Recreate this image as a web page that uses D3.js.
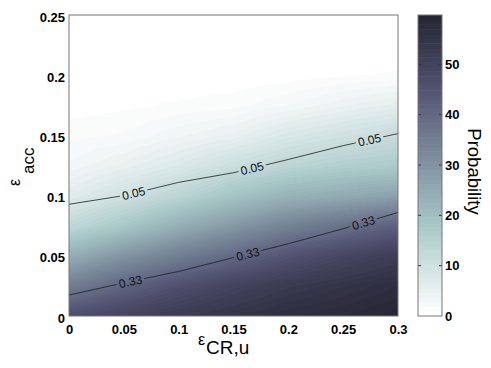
<!DOCTYPE html>
<html>
<head>
<meta charset="utf-8">
<script src="https://cdn.jsdelivr.net/npm/d3@7"></script>
<style>
  body { margin: 0; background: #fff; }
  text { font-family: Arial, "Liberation Sans", sans-serif; }
</style>
</head>
<body>
<svg id="chart" width="491" height="368"></svg>
<script>
// grid of the surface (x = eps_CR,u, y = eps_acc)
const xValues = [0, 0.05, 0.1, 0.15, 0.2, 0.25, 0.3];
const yValues = [0, 0.025, 0.05, 0.075, 0.1, 0.125, 0.15, 0.175, 0.2, 0.225, 0.25];
const probability = [
  [47, 50, 53, 55, 57, 58, 59.5],
  [35, 41, 46, 50, 53, 55, 57],
  [24, 30, 35, 40, 45, 49, 52],
  [13, 18, 24, 29, 34, 38, 42],
  [6.5, 10, 14, 19, 23, 25, 27],
  [3, 5, 7.5, 11, 14, 16, 17],
  [1.5, 2, 3.5, 5, 8, 10, 12],
  [0.4, 0.7, 1.1, 1.5, 2.8, 4.5, 6],
  [0, 0.1, 0.1, 0.1, 0.4, 0.8, 1.1],
  [0, 0, 0, 0, 0, 0.05, 0.1],
  [0, 0, 0, 0, 0, 0, 0]
];

// contour lines and where their labels sit
const contour05 = [[0, 0.0928], [0.05, 0.1000], [0.1, 0.1110], [0.15, 0.1190], [0.2, 0.1300], [0.25, 0.1415], [0.3, 0.1515]];
const contour33 = [[0, 0.0174], [0.05, 0.0275], [0.1, 0.0370], [0.15, 0.0485], [0.2, 0.0600], [0.25, 0.0725], [0.3, 0.0860]];
const labels05 = [0.059, 0.167, 0.274];
const labels33 = [0.056, 0.163, 0.2685];

const xTicks = [0, 0.05, 0.1, 0.15, 0.2, 0.25, 0.3];
const yTicks = [0, 0.05, 0.1, 0.15, 0.2, 0.25];
const colorTicks = [0, 10, 20, 30, 40, 50];
const colorMax = 59.8;

const margin = {left: 69, top: 15};
const width = 329, height = 301;
const cbar = {x: 418, w: 24};
const nLevels = 64, tMin = 0.17;

const svg = d3.select("#chart");
svg.append("rect").attr("width", 491).attr("height", 368).attr("fill", "#fff");

const xScale = d3.scaleLinear().domain([0, 0.3]).range([0, width]);
const yScale = d3.scaleLinear().domain([0, 0.25]).range([height, 0]);
const cScale = d3.scaleLinear().domain([0, colorMax]).range([height, 0]);

// matlab bone colormap, flipped
function bone(t) {
  let r, g, b;
  const h = 0.375;
  if (t < h) { r = 7 * t / 8; g = 7 * t / 8; b = (7 * t + t / h) / 8; }
  else if (t < 0.75) { r = 7 * t / 8; g = (7 * t + (t - h) / h) / 8; b = (7 * t + 1) / 8; }
  else { r = (7 * t + (t - 0.75) * 4) / 8; g = (7 * t + 1) / 8; b = (7 * t + 1) / 8; }
  return [r * 255, g * 255, b * 255];
}
function levelOf(v) {
  return Math.max(0, Math.min(nLevels - 1, Math.floor(v / colorMax * nLevels)));
}
function levelColor(k) {
  return bone(1 - k / (nLevels - 1) * (1 - tMin));
}

// surface value with interp shading between grid nodes
function valueAt(x, y) {
  const fx = Math.max(0, Math.min(xValues.length - 1.000001, x / (xValues[1] - xValues[0])));
  const fy = Math.max(0, Math.min(yValues.length - 1.000001, y / (yValues[1] - yValues[0])));
  const i = Math.floor(fx), j = Math.floor(fy);
  const u = fx - i, w = fy - j;
  const p = probability;
  return p[j][i] * (1 - u) * (1 - w) + p[j][i + 1] * u * (1 - w) +
         p[j + 1][i] * (1 - u) * w + p[j + 1][i + 1] * u * w;
}

const canvas = document.createElement("canvas");
canvas.width = width; canvas.height = height;
const ctx = canvas.getContext("2d");
const img = ctx.createImageData(width, height);
for (let py = 0; py < height; py++) {
  for (let px = 0; px < width; px++) {
    const v = valueAt(xScale.invert(px + 0.5), yScale.invert(py + 0.5));
    const c = levelColor(levelOf(v));
    const o = (py * width + px) * 4;
    img.data[o] = c[0]; img.data[o + 1] = c[1]; img.data[o + 2] = c[2]; img.data[o + 3] = 255;
  }
}
ctx.putImageData(img, 0, 0);

const plot = svg.append("g").attr("transform", `translate(${margin.left},${margin.top})`);
plot.append("image")
  .attr("width", width).attr("height", height)
  .attr("href", canvas.toDataURL());

// contour lines, broken where the labels are
const line = d3.line().x(d => xScale(d[0])).y(d => yScale(d[1]));
function onLine(pts, x) {
  for (let k = 0; k < pts.length - 1; k++) {
    if (x >= pts[k][0] && x <= pts[k + 1][0]) {
      const a = pts[k], b = pts[k + 1];
      const f = (x - a[0]) / (b[0] - a[0]);
      const ang = Math.atan2(yScale(b[1]) - yScale(a[1]), xScale(b[0]) - xScale(a[0])) * 180 / Math.PI;
      return {y: a[1] + f * (b[1] - a[1]), ang};
    }
  }
}
const defs = svg.append("defs");
function drawContour(pts, labelXs, text, id) {
  const m = defs.append("mask").attr("id", id).attr("maskUnits", "userSpaceOnUse")
    .attr("x", -5).attr("y", -5).attr("width", width + 10).attr("height", height + 10);
  m.append("rect").attr("x", -5).attr("y", -5).attr("width", width + 10).attr("height", height + 10).attr("fill", "#fff");
  labelXs.forEach(lx => {
    const p = onLine(pts, lx);
    m.append("rect").attr("x", -14).attr("y", -5).attr("width", 28).attr("height", 10).attr("fill", "#000")
      .attr("transform", `translate(${xScale(lx)},${yScale(p.y)}) rotate(${p.ang})`);
  });
  plot.append("path").datum(pts).attr("d", line)
    .attr("fill", "none").attr("stroke", "#1e1e1e").attr("stroke-width", 0.8)
    .attr("mask", `url(#${id})`);
  labelXs.forEach(lx => {
    const p = onLine(pts, lx);
    plot.append("text")
      .attr("transform", `translate(${xScale(lx)},${yScale(p.y)}) rotate(${p.ang})`)
      .attr("text-anchor", "middle").attr("dy", "0.36em")
      .style("font-size", "12px").attr("fill", "#111")
      .text(text);
  });
}
drawContour(contour05, labels05, "0.05", "mask05");
drawContour(contour33, labels33, "0.33", "mask33");

plot.append("rect").attr("width", width).attr("height", height)
  .attr("fill", "none").attr("stroke", "#777").attr("stroke-width", 1);

// axes
const xAxis = plot.append("g").attr("transform", `translate(0,${height})`)
  .call(d3.axisBottom(xScale).tickValues(xTicks).tickSize(0).tickPadding(9).tickFormat(d => String(d)));
const yAxis = plot.append("g")
  .call(d3.axisLeft(yScale).tickValues(yTicks).tickSize(0).tickPadding(4).tickFormat(d => String(d)));
[xAxis, yAxis].forEach(a => {
  a.select(".domain").remove();
  a.selectAll("text").style("font-size", "13px").style("font-weight", "bold").attr("fill", "#000")
    .style("font-family", "Arial, 'Liberation Sans', sans-serif");
});
yAxis.selectAll("text").attr("y", 2);

// axis titles
svg.append("text").attr("x", 198).attr("y", 345).style("font-size", "16px").text("ε");
svg.append("text").attr("x", 206).attr("y", 354).style("font-size", "19px").text("CR,u");
svg.append("text").attr("transform", "translate(20,186) rotate(-90)").style("font-size", "16px").text("ε");
svg.append("text").attr("transform", "translate(34,174) rotate(-90)").style("font-size", "17px").text("acc");

// colorbar
const cb = svg.append("g").attr("transform", `translate(${cbar.x},${margin.top})`);
const step = colorMax / nLevels;
cb.selectAll("rect.band").data(d3.range(nLevels)).join("rect")
  .attr("class", "band")
  .attr("x", 0).attr("width", cbar.w)
  .attr("y", k => cScale((k + 1) * step))
  .attr("height", k => cScale(k * step) - cScale((k + 1) * step) + 0.5)
  .attr("fill", k => d3.rgb(...levelColor(k)).toString());
cb.selectAll("line.tk").data(colorTicks.slice(1)).join("g").each(function (d) {
  const g = d3.select(this);
  g.append("line").attr("x1", 0).attr("x2", 3).attr("y1", cScale(d)).attr("y2", cScale(d)).attr("stroke", "#333");
  g.append("line").attr("x1", cbar.w - 3).attr("x2", cbar.w).attr("y1", cScale(d)).attr("y2", cScale(d)).attr("stroke", "#333");
});
cb.append("rect").attr("width", cbar.w).attr("height", height)
  .attr("fill", "none").attr("stroke", "#777").attr("stroke-width", 1);
const cAxis = cb.append("g").attr("transform", `translate(${cbar.w},0)`)
  .call(d3.axisRight(cScale).tickValues(colorTicks).tickSize(0).tickPadding(3));
cAxis.select(".domain").remove();
cAxis.selectAll("text").style("font-size", "13px").style("font-weight", "bold").attr("fill", "#000")
  .style("font-family", "Arial, 'Liberation Sans', sans-serif");

svg.append("text").attr("transform", "translate(468,171.5) rotate(90)")
  .attr("text-anchor", "middle").style("font-size", "18.5px").text("Probability");
</script>
</body>
</html>
